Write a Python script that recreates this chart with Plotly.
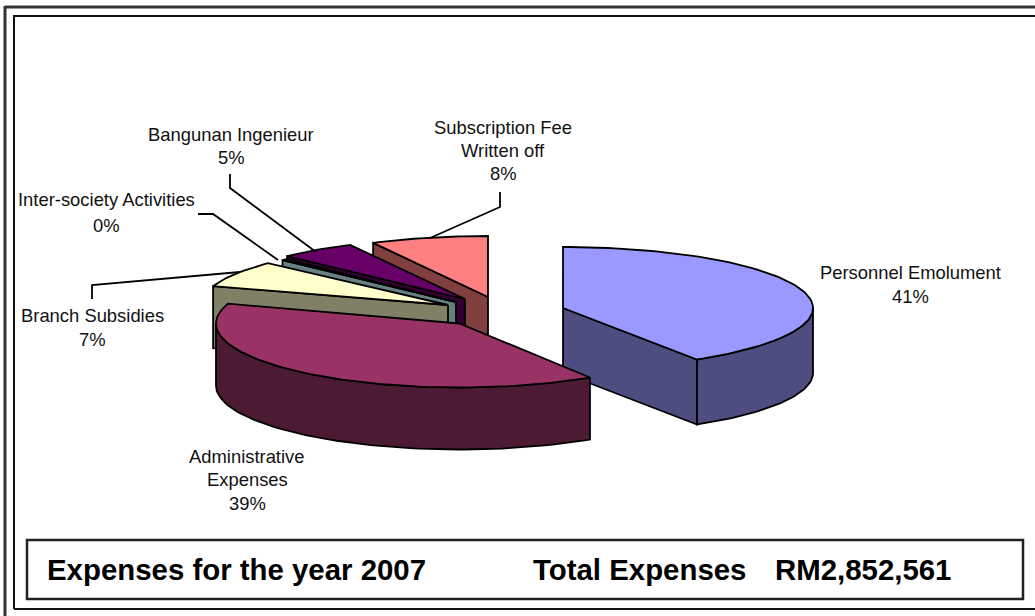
import math
import plotly.graph_objects as go

# ---- data ----
categories = ["Personnel Emolument", "Administrative Expenses", "Branch Subsidies",
              "Inter-society Activities", "Bangunan Ingenieur", "Subscription Fee Written off"]
shares = [41, 39, 7, 0.4, 5, 7.6]
chart_title = "Expenses for the year 2007"
total_label = "Total Expenses"
total_value = "RM2,852,561"

# ---- styling / layout ----
W, H = 1035, 616
top_colors = ["#9999FF", "#993366", "#FFFFCC", "#A9D4D4", "#660066", "#FF8080"]
side_colors = ["#4D4D80", "#4D1A33", "#808066", "#668080", "#330033", "#804040"]
# exploded centre of each slice, and its horizontal / vertical radius
explode_center = [(563, 308), (459.5, 323.5), (448, 305), (456, 302), (465, 299), (488, 297)]
radius = [(250, 61), (243.5, 64), (247, 61), (238, 61), (250, 61), (250, 61)]
depth = [65, 62, 62, 62, 62, 62]
label_lines = [["Personnel Emolument"], ["Administrative", "Expenses"], ["Branch Subsidies"],
               ["Inter-society Activities"], ["Bangunan Ingenieur"], ["Subscription Fee", "Written off"]]
label_pos = [(910, 272), (247, 456), (92, 315), (106, 199), (231, 134), (503, 127)]
label_step = [24, 23.5, 24, 26, 23, 23]
leaders = {
    2: ([92, 92, 240], [299, 285, 272]),
    3: ([198, 213, 278], [214, 214, 260]),
    4: ([230, 230, 316], [174, 188, 252]),
    5: ([500, 500, 430], [192, 207, 238]),
}

total = sum(shares)
angles = [0.0]
for s in shares:
    angles.append(angles[-1] + 360.0 * s / total)

fig = go.Figure()


def rim(i, a0, a1, dy=0.0):
    cx, cy = explode_center[i]
    rx, ry = radius[i]
    n = max(2, int(abs(a1 - a0) / 1.5) + 2)
    xs, ys = [], []
    for k in range(n):
        a = math.radians(a0 + (a1 - a0) * k / (n - 1))
        xs.append(cx + rx * math.sin(a))
        ys.append(cy - ry * math.cos(a) + dy)
    return xs, ys


def poly(xs, ys, fill, name):
    fig.add_trace(go.Scatter(
        x=xs + xs[:1], y=ys + ys[:1], mode="lines", fill="toself", fillcolor=fill,
        line=dict(color="#000000", width=1.8), hoverinfo="text", text=name, showlegend=False))


def cut_face(i, a):
    cx, cy = explode_center[i]
    x, y = rim(i, a, a)
    d = depth[i]
    poly([cx, x[0], x[0], cx], [cy, y[0], y[0] + d, cy + d], side_colors[i], categories[i])


def wall(i, a0, a1):
    x, y = rim(i, a0, a1)
    xb, yb = rim(i, a1, a0, depth[i])
    poly(x + xb, y + yb, side_colors[i], categories[i])


def top(i):
    cx, cy = explode_center[i]
    x, y = rim(i, angles[i], angles[i + 1])
    poly([cx] + x, [cy] + y, top_colors[i], categories[i])


# back to front
for i in (5, 4, 3, 2):
    cut_face(i, angles[i])
    top(i)
# personnel
cut_face(0, angles[1])
wall(0, 90, angles[1])
top(0)
# administrative
wall(1, angles[1], 270)
top(1)

for i, (lx, ly) in leaders.items():
    fig.add_trace(go.Scatter(x=lx, y=ly, mode="lines", line=dict(color="#000000", width=1.8),
                             hoverinfo="skip", showlegend=False))

annotations = []
for i, lines in enumerate(label_lines):
    pct = f"{round(shares[i] / total * 100)}%"
    x0, y0 = label_pos[i]
    for j, t in enumerate(lines + [pct]):
        annotations.append(dict(x=x0, y=y0 + j * label_step[i], text=t, showarrow=False,
                                xref="x", yref="y", xanchor="center", yanchor="middle",
                                font=dict(family="Liberation Sans, Arial", size=18.4, color="#111111")))
for txt, xl in ((chart_title, 45), (total_label, 531), (total_value, 773)):
    annotations.append(dict(x=xl, y=569, text=f"<b>{txt}</b>", showarrow=False, xref="x", yref="y",
                            xanchor="left", yanchor="middle",
                            font=dict(family="Liberation Sans, Arial", size=29.4, color="#000000")))

blk = "#222222"
shapes = [
    dict(type="line", x0=5, y0=7, x1=W, y1=7, line=dict(color="#333333", width=3)),
    dict(type="line", x0=5, y0=6, x1=5, y1=H, line=dict(color="#333333", width=3)),
    dict(type="line", x0=14, y0=16, x1=W, y1=16, line=dict(color="#111111", width=2)),
    dict(type="line", x0=14, y0=15, x1=14, y1=609, line=dict(color="#111111", width=2)),
    dict(type="line", x0=14, y0=609, x1=W, y1=609, line=dict(color="#111111", width=2)),
    dict(type="rect", x0=27, y0=540, x1=1023, y1=599, line=dict(color=blk, width=2.5)),
]

fig.update_layout(
    width=W, height=H, autosize=False,
    margin=dict(l=0, r=0, t=0, b=0), paper_bgcolor="#FFFFFF", plot_bgcolor="#FFFFFF",
    xaxis=dict(range=[0, W], visible=False, fixedrange=True),
    yaxis=dict(range=[H, 0], visible=False, fixedrange=True),
    showlegend=False, annotations=annotations, shapes=shapes,
)
fig.write_html("out.html", config={"displayModeBar": False},
               post_script="document.body.style.margin='0';document.body.style.overflow='hidden';")
